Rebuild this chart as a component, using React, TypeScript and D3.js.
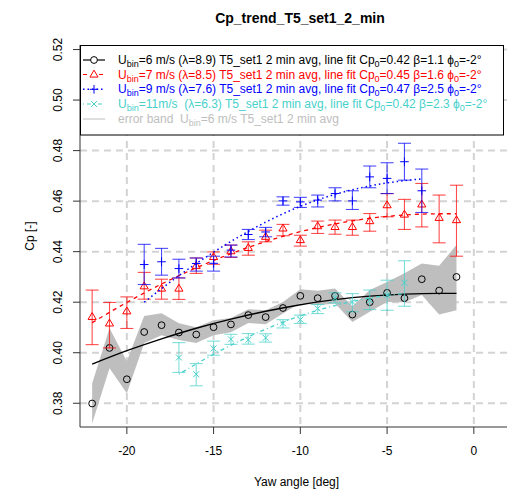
import React from "react";
import * as d3 from "d3";

const W = 507;
const H = 494;
const FONT = "'Liberation Sans', Arial, Helvetica, sans-serif";

const xTicks = [-20, -15, -10, -5, 0];
const yTicks = [0.38, 0.4, 0.42, 0.44, 0.46, 0.48, 0.5, 0.52];

// Ubin = 6 m/s
const yaw6 = [-22, -21, -20, -19, -18, -17, -16, -15, -14, -13, -12, -11, -10, -9, -8, -7, -6, -5, -4, -3, -2, -1];
const cp6 = [0.3799, 0.4019, 0.3895, 0.4082, 0.4109, 0.408, 0.4072, 0.4101, 0.4112, 0.4149, 0.4141, 0.4177, 0.4225, 0.4216, 0.4225, 0.4151, 0.42, 0.4237, 0.4216, 0.4291, 0.4246, 0.43];
const band6Upper = [0.3878, 0.4097, 0.3966, 0.4145, 0.4156, 0.4117, 0.4101, 0.4129, 0.4137, 0.4172, 0.4168, 0.4201, 0.4251, 0.4245, 0.4254, 0.4184, 0.4248, 0.428, 0.4315, 0.4353, 0.4344, 0.4426];
const band6Lower = [0.372, 0.3939, 0.384, 0.4038, 0.4069, 0.405, 0.4038, 0.4069, 0.4081, 0.4118, 0.4113, 0.4155, 0.4197, 0.4188, 0.4195, 0.4122, 0.4162, 0.4201, 0.42, 0.4228, 0.4151, 0.4168];
const fit6Yaw = [-22, -20, -18, -16, -14, -12, -10, -8, -6, -4, -2, -1];
const fit6Cp = [0.3955, 0.4008, 0.4055, 0.4097, 0.4133, 0.4164, 0.419, 0.421, 0.4224, 0.4232, 0.4235, 0.4235];

// Ubin = 7 m/s
const yaw7 = [-22, -21, -20, -19, -18, -17, -16, -15, -14, -13, -12, -11, -10, -9, -8, -7, -6, -5, -4, -3, -2, -1];
const cp7 = [0.4142, 0.4116, 0.4164, 0.4263, 0.4254, 0.4254, 0.4344, 0.4379, 0.4402, 0.4415, 0.4459, 0.4492, 0.4446, 0.4501, 0.4498, 0.4498, 0.4521, 0.4584, 0.4547, 0.4587, 0.4534, 0.4525];
const cp7Hi = [0.4248, 0.4199, 0.4221, 0.4318, 0.4291, 0.4296, 0.4375, 0.4399, 0.4426, 0.4439, 0.4485, 0.4508, 0.4465, 0.4521, 0.4525, 0.4525, 0.4551, 0.463, 0.4607, 0.467, 0.4624, 0.4663];
const cp7Lo = [0.4032, 0.4019, 0.4096, 0.4212, 0.4212, 0.4211, 0.4314, 0.435, 0.4377, 0.4386, 0.4439, 0.4463, 0.4422, 0.4472, 0.4469, 0.4465, 0.4481, 0.4538, 0.4488, 0.4498, 0.4435, 0.4382];
const fit7Yaw = [-22, -20, -18, -16, -14, -12, -10, -8, -6, -4, -2, -1];
const fit7Cp = [0.4119, 0.4199, 0.4272, 0.4336, 0.4392, 0.444, 0.4479, 0.451, 0.4532, 0.4545, 0.455, 0.455];

// Ubin = 9 m/s
const yaw9 = [-19, -18, -17, -16, -15, -14, -13, -12, -11, -10, -9, -8, -7, -6, -5, -4, -3];
const cp9 = [0.4349, 0.436, 0.4333, 0.4353, 0.4354, 0.4406, 0.4468, 0.4478, 0.4601, 0.4597, 0.4604, 0.463, 0.4601, 0.4696, 0.469, 0.4756, 0.4641];
const cp9Hi = [0.4429, 0.4413, 0.437, 0.4375, 0.4382, 0.4426, 0.4488, 0.4496, 0.4617, 0.4615, 0.4624, 0.4653, 0.4641, 0.4739, 0.4752, 0.4829, 0.4727];
const cp9Lo = [0.427, 0.4307, 0.4296, 0.4323, 0.4323, 0.4379, 0.4448, 0.4459, 0.4584, 0.4575, 0.4577, 0.4601, 0.4567, 0.4653, 0.463, 0.4683, 0.4555];
const fit9Yaw = [-19, -17, -15, -13, -11, -9, -7, -5, -3];
const fit9Cp = [0.42, 0.4305, 0.4398, 0.448, 0.455, 0.4605, 0.4645, 0.4672, 0.4688];

// Ubin = 11 m/s
const yaw11 = [-17, -16, -15, -14, -13, -12, -11, -10, -9, -8, -7, -6, -5, -4];
const cp11 = [0.3981, 0.3915, 0.4017, 0.4053, 0.4051, 0.4059, 0.4116, 0.4131, 0.4175, 0.4217, 0.4201, 0.4208, 0.4228, 0.4277];
const cp11Hi = [0.404, 0.3957, 0.4046, 0.4073, 0.4076, 0.4075, 0.4131, 0.4149, 0.4191, 0.4237, 0.4234, 0.4248, 0.4287, 0.4364];
const cp11Lo = [0.3922, 0.3869, 0.399, 0.4033, 0.4034, 0.4042, 0.4098, 0.4116, 0.4155, 0.4197, 0.4162, 0.4171, 0.4168, 0.4184];
const fit11Yaw = [-17, -15, -13, -11, -9, -7, -5, -4];
const fit11Cp = [0.3915, 0.3994, 0.4063, 0.4121, 0.4168, 0.4203, 0.4227, 0.4234];

const RED = "#ff0000";
const BLUE = "#0000ff";
const CYAN = "#48d1cc";
const GREY = "#bebebe";

type Seg = [string, boolean?];
const legendRows: { color: string; segs: Seg[] }[] = [
  { color: "#000000", segs: [["U"], ["bin", true], ["=6 m/s (λ=8.9) T5_set1 2 min avg, line fit Cp"], ["0", true], ["=0.42 β=1.1 ϕ"], ["0", true], ["=-2°"]] },
  { color: RED, segs: [["U"], ["bin", true], ["=7 m/s (λ=8.5) T5_set1 2 min avg, line fit Cp"], ["0", true], ["=0.45 β=1.6 ϕ"], ["0", true], ["=-2°"]] },
  { color: BLUE, segs: [["U"], ["bin", true], ["=9 m/s (λ=7.6) T5_set1 2 min avg, line fit Cp"], ["0", true], ["=0.47 β=2.5 ϕ"], ["0", true], ["=-2°"]] },
  { color: CYAN, segs: [["U"], ["bin", true], ["=11m/s  (λ=6.3) T5_set1 2 min avg, line fit Cp"], ["0", true], ["=0.42 β=2.3 ϕ"], ["0", true], ["=-2°"]] },
  { color: GREY, segs: [["error band  U"], ["bin", true], ["=6 m/s T5_set1 2 min avg"]] },
];

function Txt({ x, y, segs, color, size }: { x: number; y: number; segs: Seg[]; color: string; size: number }) {
  const out: React.ReactNode[] = [];
  let shifted = false;
  segs.forEach(([t, sub], i) => {
    let dy = 0;
    if (sub && !shifted) { dy = 3; shifted = true; }
    else if (!sub && shifted) { dy = -3; shifted = false; }
    out.push(
      <tspan key={i} dy={dy} fontSize={sub ? size * 0.75 : size}>{t}</tspan>
    );
  });
  return (
    <text x={x} y={y} fill={color} fontFamily={FONT} fontSize={size} style={{ whiteSpace: "pre" }}>
      {out}
    </text>
  );
}

export default function App() {
  const x = d3.scaleLinear().domain([-22.7, 1.9]).range([80, 506.8]);
  const y = d3.scaleLinear().domain([0.3706, 0.5218]).range([427, 45]);
  const L = 80, R = 507, T = 45, B = 427;

  const line = (xs: number[], ys: number[]) =>
    d3.line<number>().x((_, i) => x(xs[i])).y((v) => y(v)).curve(d3.curveMonotoneX)(ys) || "";

  const bandPath = (() => {
    const pts: [number, number][] = [];
    yaw6.forEach((a, i) => pts.push([x(a), y(band6Upper[i])]));
    for (let i = yaw6.length - 1; i >= 0; i--) pts.push([x(yaw6[i]), y(band6Lower[i])]);
    return "M" + pts.map((p) => p.join(",")).join("L") + "Z";
  })();

  const cap = 6.5;
  const errBars = (xs: number[], hi: number[], lo: number[], color: string, key: string) => (
    <g key={key} stroke={color} strokeWidth={1.1} strokeOpacity={0.7} fill="none">
      {xs.map((a, i) => {
        const px = x(a);
        const yh = y(hi[i]);
        const yl = y(lo[i]);
        return (
          <g key={i}>
            <line x1={px} x2={px} y1={yh} y2={yl} />
            <line x1={px - cap} x2={px + cap} y1={yh} y2={yh} />
            <line x1={px - cap} x2={px + cap} y1={yl} y2={yl} />
          </g>
        );
      })}
    </g>
  );

  const tri = (cx: number, cy: number, s = 4.3) =>
    `M${cx},${cy - s}L${cx + s * 0.95},${cy + s * 0.6}L${cx - s * 0.95},${cy + s * 0.6}Z`;

  const legendY = [60, 74.5, 89.3, 104, 119];
  const symX0 = 83, symX1 = 105, symC = 94;

  return (
    <svg width={W} height={H} style={{ position: "absolute", left: 0, top: 0, background: "#fff" }}>
      <rect x={0} y={0} width={W} height={H} fill="#fff" />
      {/* grid */}
      <g stroke="#d3d3d3" strokeWidth={2} strokeDasharray="7,5">
        {xTicks.map((t) => (
          <line key={"gx" + t} x1={x(t)} x2={x(t)} y1={T} y2={B} />
        ))}
        {yTicks.map((t) => (
          <line key={"gy" + t} x1={L} x2={R} y1={y(t)} y2={y(t)} />
        ))}
      </g>

      {/* error band */}
      <path d={bandPath} fill={GREY} stroke="none" />
      {/* black fit + points */}
      <path d={line(fit6Yaw, fit6Cp)} fill="none" stroke="#000" strokeWidth={1.4} />
      {yaw6.map((a, i) => (
        <circle key={"c" + i} cx={x(a)} cy={y(cp6[i])} r={3.4} fill="none" stroke="#000" strokeWidth={1} />
      ))}

      {/* red */}
      {errBars(yaw7, cp7Hi, cp7Lo, RED, "e7")}
      {yaw7.map((a, i) => (
        <path key={"t" + i} d={tri(x(a), y(cp7[i]))} fill="none" stroke={RED} strokeWidth={1} />
      ))}
      <path d={line(fit7Yaw, fit7Cp)} fill="none" stroke={RED} strokeWidth={1.3} strokeDasharray="4,4" />

      {/* blue */}
      {errBars(yaw9, cp9Hi, cp9Lo, BLUE, "e9")}
      {yaw9.map((a, i) => {
        const px = x(a), py = y(cp9[i]);
        return (
          <g key={"p" + i} stroke={BLUE} strokeWidth={1}>
            <line x1={px - 4.3} x2={px + 4.3} y1={py} y2={py} />
            <line x1={px} x2={px} y1={py - 4.3} y2={py + 4.3} />
          </g>
        );
      })}
      <path d={line(fit9Yaw, fit9Cp)} fill="none" stroke={BLUE} strokeWidth={1.5} strokeDasharray="1.5,3" />

      {/* cyan */}
      {errBars(yaw11, cp11Hi, cp11Lo, CYAN, "e11")}
      {yaw11.map((a, i) => {
        const px = x(a), py = y(cp11[i]);
        return (
          <g key={"x" + i} stroke={CYAN} strokeWidth={1}>
            <line x1={px - 3} x2={px + 3} y1={py - 3} y2={py + 3} />
            <line x1={px - 3} x2={px + 3} y1={py + 3} y2={py - 3} />
          </g>
        );
      })}
      <path d={line(fit11Yaw, fit11Cp)} fill="none" stroke={CYAN} strokeWidth={1.3} strokeDasharray="1,3,4,3" />

      {/* axes */}
      <g stroke="#333" strokeWidth={1} fill="none">
        <line x1={L} x2={L} y1={T} y2={B} />
        <line x1={L} x2={R} y1={B} y2={B} />
        {xTicks.map((t) => (
          <line key={"tx" + t} x1={x(t)} x2={x(t)} y1={B} y2={B + 7} />
        ))}
        {yTicks.map((t) => (
          <line key={"ty" + t} x1={L - 7} x2={L} y1={y(t)} y2={y(t)} />
        ))}
      </g>
      {xTicks.map((t) => (
        <text key={"lx" + t} x={x(t)} y={455} textAnchor="middle" fontFamily={FONT} fontSize={12} fill="#000">
          {t}
        </text>
      ))}
      {yTicks.map((t) => (
        <text key={"ly" + t} transform={`translate(62,${y(t)}) rotate(-90)`} textAnchor="middle" fontFamily={FONT} fontSize={12} fill="#000">
          {t.toFixed(2)}
        </text>
      ))}
      <text x={(L + R) / 2 + 3} y={486} textAnchor="middle" fontFamily={FONT} fontSize={12}>Yaw angle [deg]</text>
      <text transform={`translate(34,${(T + B) / 2}) rotate(-90)`} textAnchor="middle" fontFamily={FONT} fontSize={12}>Cp [-]</text>
      <text x={300} y={23} textAnchor="middle" fontFamily={FONT} fontSize={14} fontWeight="bold">Cp_trend_T5_set1_2_min</text>

      {/* legend */}
      <rect x={80.5} y={45.5} width={423} height={89.5} fill="#fff" stroke="#000" strokeWidth={1} />
      <g>
        <line x1={symX0} x2={symX1} y1={legendY[0]} y2={legendY[0]} stroke="#000" strokeWidth={1.2} />
        <circle cx={symC} cy={legendY[0]} r={3.4} fill="#fff" stroke="#000" />
        <line x1={symX0} x2={symX1} y1={legendY[1]} y2={legendY[1]} stroke={RED} strokeWidth={1.2} strokeDasharray="4,4" />
        <path d={tri(symC, legendY[1])} fill="#fff" stroke={RED} />
        <line x1={symX0} x2={symX1} y1={legendY[2]} y2={legendY[2]} stroke={BLUE} strokeWidth={1.4} strokeDasharray="1.5,3" />
        <line x1={symC - 4.3} x2={symC + 4.3} y1={legendY[2]} y2={legendY[2]} stroke={BLUE} />
        <line x1={symC} x2={symC} y1={legendY[2] - 4.3} y2={legendY[2] + 4.3} stroke={BLUE} />
        <line x1={symX0} x2={symX1} y1={legendY[3]} y2={legendY[3]} stroke={CYAN} strokeWidth={1.2} strokeDasharray="1,3,4,3" />
        <line x1={symC - 3} x2={symC + 3} y1={legendY[3] - 3} y2={legendY[3] + 3} stroke={CYAN} />
        <line x1={symC - 3} x2={symC + 3} y1={legendY[3] + 3} y2={legendY[3] - 3} stroke={CYAN} />
        <line x1={symX0} x2={symX1} y1={legendY[4]} y2={legendY[4]} stroke={GREY} strokeWidth={1} />
      </g>
      {legendRows.map((r, i) => (
        <Txt key={"lg" + i} x={118} y={legendY[i] + 4} segs={r.segs} color={r.color} size={12} />
      ))}
    </svg>
  );
}
